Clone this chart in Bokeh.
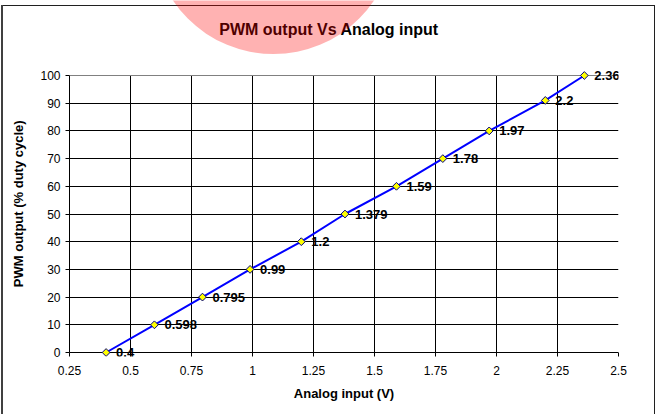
import math
from bokeh.plotting import figure
from bokeh.models import Range1d, FixedTicker, LabelSet, Label, ColumnDataSource, Grid
from bokeh.embed import file_html
from bokeh.resources import INLINE
from bokeh.core.properties import value

# ---- data ----
analog_input = [0.4, 0.598, 0.795, 0.99, 1.2, 1.379, 1.59, 1.78, 1.97, 2.2, 2.36]
pwm_output = [0, 10, 20, 30, 40, 50, 60, 70, 80, 91, 100]
point_labels = ["0.4", "0.598", "0.795", "0.99", "1.2", "1.379", "1.59", "1.78", "1.97", "2.2", "2.36"]

x_ticks = [0.25, 0.5, 0.75, 1.0, 1.25, 1.5, 1.75, 2.0, 2.25, 2.5]
x_tick_labels = ["0.25", "0.5", "0.75", "1", "1.25", "1.5", "1.75", "2", "2.25", "2.5"]
y_ticks = [0, 10, 20, 30, 40, 50, 60, 70, 80, 90, 100]
y_tick_labels = ["0", "10", "20", "30", "40", "50", "60", "70", "80", "90", "100"]

title_text = "PWM output Vs Analog input"
x_title = "Analog input (V)"
y_title = "PWM output (% duty cycle)"

FONT = "Liberation Sans"

# ---- layout (pixels) ----
W, H = 657, 414
PX_PER_Y = 2.77           # pixels per % duty
LEFT, RIGHT, BOTTOM = 69, 39, 58
EXTRA_BOTTOM = 4          # frame room below the 0 line (x ticks hang into it)
EXTRA_TOP = 75            # frame reaches the top of the canvas (title + watermark live there)
Y_LABEL_SHIFT = 14        # non-breaking spaces that move the y title down to where it sits

src = ColumnDataSource(dict(x=analog_input, y=pwm_output, lab=point_labels))

x0, x1 = x_ticks[0], x_ticks[-1]
y0, y1 = y_ticks[0], y_ticks[-1]

outer_border = ("linear-gradient(#404040,#404040) 1px 5px / 2px 409px no-repeat, "
                "linear-gradient(#202020,#202020) 1px 5px / 654px 1px no-repeat, "
                "linear-gradient(#202020,#202020) 654px 5px / 1px 409px no-repeat, #ffffff")

p = figure(width=W, height=H, output_backend="svg", toolbar_location=None,
           x_range=Range1d(x0, x1),
           y_range=Range1d(y0 - EXTRA_BOTTOM / PX_PER_Y, y1 + EXTRA_TOP / PX_PER_Y),
           min_border_left=LEFT, min_border_right=RIGHT, min_border_top=0,
           min_border_bottom=BOTTOM, styles={"background": outer_border})

p.background_fill_color = None
p.border_fill_color = None
p.outline_line_color = None

# axes
for ax in (p.xaxis[0], p.yaxis[0]):
    ax.axis_line_color = "black"
    ax.axis_line_width = 1
    ax.major_tick_line_color = "black"
    ax.minor_tick_line_color = None
    ax.major_label_text_font = FONT
    ax.major_label_text_font_size = "12px"
    ax.major_label_text_color = "black"
    ax.axis_label_text_font = FONT
    ax.axis_label_text_font_size = "13px"
    ax.axis_label_text_font_style = "bold"
    ax.axis_label_text_color = "black"

# x axis sits EXTRA_BOTTOM px under the 0 line; its ticks reach up to that line,
# the 0 gridline acts as the visible axis line
p.xaxis.ticker = FixedTicker(ticks=x_ticks)
p.xaxis.major_label_overrides = {t: l for t, l in zip(x_ticks, x_tick_labels)}
p.xaxis.axis_line_color = None
p.xaxis.major_tick_in = EXTRA_BOTTOM
p.xaxis.major_tick_out = 0
p.xaxis.major_label_standoff = 9
p.xaxis.axis_label = x_title
p.xaxis.axis_label_standoff = 8
p.xaxis.bounds = (x0, x1)

p.yaxis.ticker = FixedTicker(ticks=y_ticks)
p.yaxis.major_label_overrides = {t: l for t, l in zip(y_ticks, y_tick_labels)}
p.yaxis.major_tick_in = 0
p.yaxis.major_tick_out = 4
p.yaxis.major_label_standoff = 5
p.yaxis.axis_label = y_title + "\u00a0" * Y_LABEL_SHIFT
p.yaxis.axis_label_standoff = 11
p.yaxis.bounds = (y0, y1)

# grids: black inner lines, grey top/right edge of the plot area
p.xgrid.ticker = FixedTicker(ticks=x_ticks[:-1])
p.ygrid.ticker = FixedTicker(ticks=y_ticks[:-1])
p.xgrid.bounds = (x0, x1)
p.ygrid.bounds = (y0, y1)
p.xgrid.cross_bounds = (y0, y1)
p.ygrid.cross_bounds = (x0, x1)
for g in (p.xgrid[0], p.ygrid[0]):
    g.grid_line_color = "black"
    g.grid_line_width = 1
    g.grid_line_alpha = 1.0

p.add_layout(Grid(dimension=0, ticker=FixedTicker(ticks=[x1]), bounds=(x0, x1),
                  cross_bounds=(y0, y1), grid_line_color="#808080", grid_line_width=1))
p.add_layout(Grid(dimension=1, ticker=FixedTicker(ticks=[y1]), bounds=(y0, y1),
                  cross_bounds=(x0, x1), grid_line_color="#808080", grid_line_width=1))

# series
p.line("x", "y", source=src, line_color="#0000FF", line_width=2)
p.scatter("x", "y", source=src, marker="square", size=5.5, angle=math.pi / 4,
          fill_color="#FFFF00", line_color="#000080", line_width=1)
p.add_layout(LabelSet(x="x", y="y", text="lab", source=src, x_offset=10,
                      text_align="left", text_baseline="middle", text_font=value(FONT),
                      text_font_size="13px", text_font_style="bold", text_color="black"))

# chart title (screen units are measured from the frame's bottom-left corner)
frame_h = H - BOTTOM
p.add_layout(Label(x=328.5 - LEFT, y=frame_h - 28.5, x_units="screen", y_units="screen",
                   text=title_text, text_align="center", text_baseline="middle",
                   text_font=FONT, text_font_size="16px", text_font_style="bold",
                   text_color="black"))

# pink watermark disk seen at the top of the reference (drawn over the title)
p.add_layout(Label(x=273 - LEFT, y=frame_h + 68, x_units="screen", y_units="screen",
                   text="\u00a0", text_font_size="1px", text_align="center",
                   text_baseline="middle", background_fill_color="red",
                   background_fill_alpha=0.3, padding=121, border_radius=121))

open("out.html", "w").write(file_html(p, INLINE))
